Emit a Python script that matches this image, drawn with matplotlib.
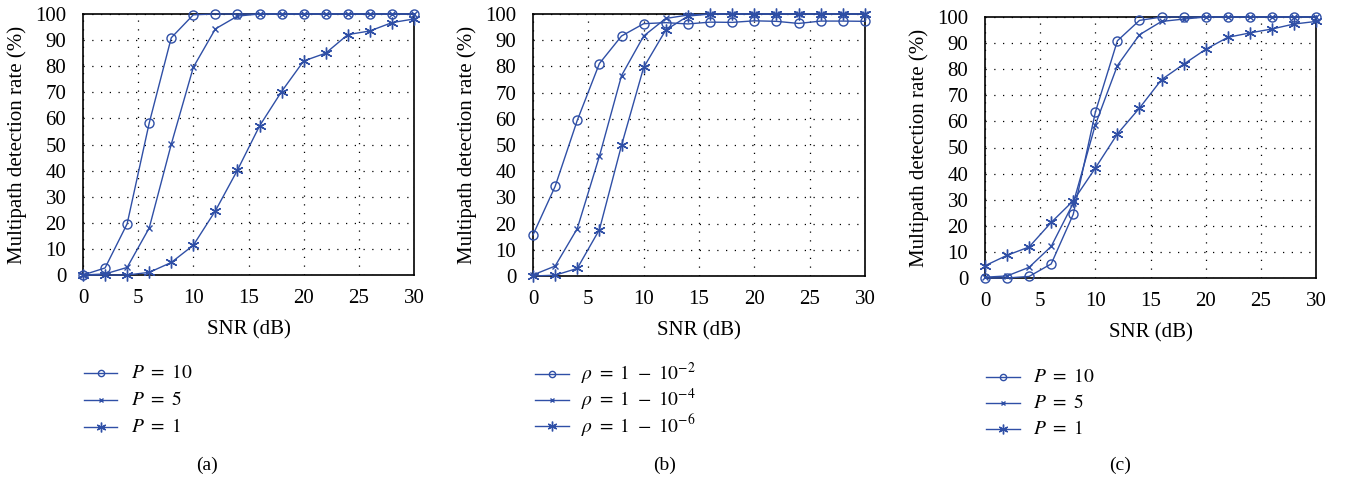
import matplotlib
matplotlib.use("Agg")
import matplotlib.pyplot as plt
from matplotlib.lines import Line2D
import numpy as np

plt.rcParams['font.family'] = ['Liberation Serif', 'DejaVu Serif']
plt.rcParams['mathtext.fontset'] = 'stix'

BLUE = '#2f4fa6'
W, H = 1352, 478

# SNR grid (dB)
snr = np.arange(0, 31, 2)

# (a) number of paths P
a_p10 = [0, 2.7, 19.6, 58.2, 90.9, 99.7, 100, 100, 100, 100, 100, 100, 100, 100, 100, 100]
a_p5 = [0, 0.4, 2.9, 18.0, 50.1, 79.6, 94.3, 99.2, 100, 100, 100, 100, 100, 100, 100, 100]
a_p1 = [0, 0, 0, 1.0, 4.8, 11.4, 24.6, 40.2, 57.1, 70.3, 82.0, 85.0, 92.1, 93.5, 96.7, 98.1]

# (b) correlation rho
b_r2 = [15.7, 34.2, 59.4, 81.1, 91.6, 96.3, 96.7, 96.2, 96.9, 96.8, 97.4, 97.2, 96.4, 97.3, 97.3, 97.2]
b_r4 = [0.4, 3.8, 18.1, 45.7, 76.5, 91.6, 98.3, 99.6, 100, 100, 100, 100, 100, 100, 100, 100]
b_r6 = [0, 0.3, 2.9, 17.7, 49.9, 79.6, 93.9, 99.2, 100, 100, 100, 100, 100, 100, 100, 100]

# (c) number of paths P, second scenario
c_p10 = [0, 0, 0.6, 5.4, 24.4, 63.5, 90.9, 98.7, 100, 100, 100, 100, 100, 100, 100, 100]
c_p5 = [0.3, 0.8, 4.1, 12.1, 28.7, 58.7, 81.4, 93.2, 98.3, 99.2, 100, 100, 100, 100, 100, 100]
c_p1 = [4.7, 8.7, 11.9, 21.3, 29.6, 42.1, 55.2, 65.1, 76.0, 81.9, 87.6, 92.2, 93.9, 95.4, 97.3, 98.3]

labels_p = [r'$P\ =\ 10$', r'$P\ =\ 5$', r'$P\ =\ 1$']
labels_rho = [r'$\rho\ =\ 1\ -\ 10^{-2}$', r'$\rho\ =\ 1\ -\ 10^{-4}$', r'$\rho\ =\ 1\ -\ 10^{-6}$']

panels = [
    # axes box in pixels (left, top, right, bottom), series, labels,
    # legend (line x0, line x1, text x, row ys), caption (x, y, text)
    ((83, 14, 414, 275), [a_p10, a_p5, a_p1], labels_p,
     (84, 117, 131, [373, 400, 427]), (207, 465, '(a)')),
    ((533, 14, 865, 276), [b_r2, b_r4, b_r6], labels_rho,
     (535, 569, 581, [374, 400, 426]), (665, 465, '(b)')),
    ((985, 17, 1316, 278), [c_p10, c_p5, c_p1], labels_p,
     (986, 1020, 1033, [377, 403, 429]), (1120, 465, '(c)')),
]

markers = [
    dict(marker='o', ms=6.5, mfc='none'),
    dict(marker='x', ms=4.5),
    dict(marker=(6, 2, 0), ms=8.5),
]
legend_ms = [4.5, 3.5, 7]

fig = plt.figure(figsize=(W / 100, H / 100), dpi=100)

for box, series, labels, leg, cap in panels:
    l, t, r, b = box
    ax = fig.add_axes([l / W, 1 - b / H, (r - l) / W, (b - t) / H])
    for ys, mk in zip(series, markers):
        ax.plot(snr, ys, color=BLUE, lw=1.0, mec=BLUE, mew=1.0,
                clip_on=False, zorder=3, **mk)
    ax.set_xlim(0, 30)
    ax.set_ylim(0, 100)
    ax.set_xticks(np.arange(0, 31, 5))
    ax.set_yticks(np.arange(0, 101, 10))
    ax.tick_params(length=0, labelsize=15)
    ax.tick_params(axis='x', pad=10)
    ax.tick_params(axis='y', pad=12)
    ax.grid(True, color='black', lw=0.9, linestyle=(0, (1, 6)))
    for s in ax.spines.values():
        s.set_linewidth(1.2)
    ax.set_xlabel('SNR (dB)', fontsize=15, labelpad=9)
    ax.set_ylabel('Multipath detection rate (%)', fontsize=15, labelpad=6)

    # legend drawn on the figure, one row per series
    x0, x1, xt, rows = leg
    for lab, mk, ms, y in zip(labels, markers, legend_ms, rows):
        yf = 1 - y / H
        fig.add_artist(Line2D([x0 / W, x1 / W], [yf, yf], color=BLUE, lw=1.0,
                              transform=fig.transFigure))
        fig.add_artist(Line2D([(x0 + x1) / 2 / W], [yf], color=BLUE,
                              marker=mk['marker'], ms=ms, mfc=mk.get('mfc', BLUE),
                              mec=BLUE, mew=1.0, transform=fig.transFigure))
        fig.text(xt / W, yf, lab, ha='left', va='center', fontsize=14)

    fig.text(cap[0] / W, 1 - cap[1] / H, cap[2], ha='center', va='center',
             fontsize=14)

fig.savefig('out.png', dpi=100)
